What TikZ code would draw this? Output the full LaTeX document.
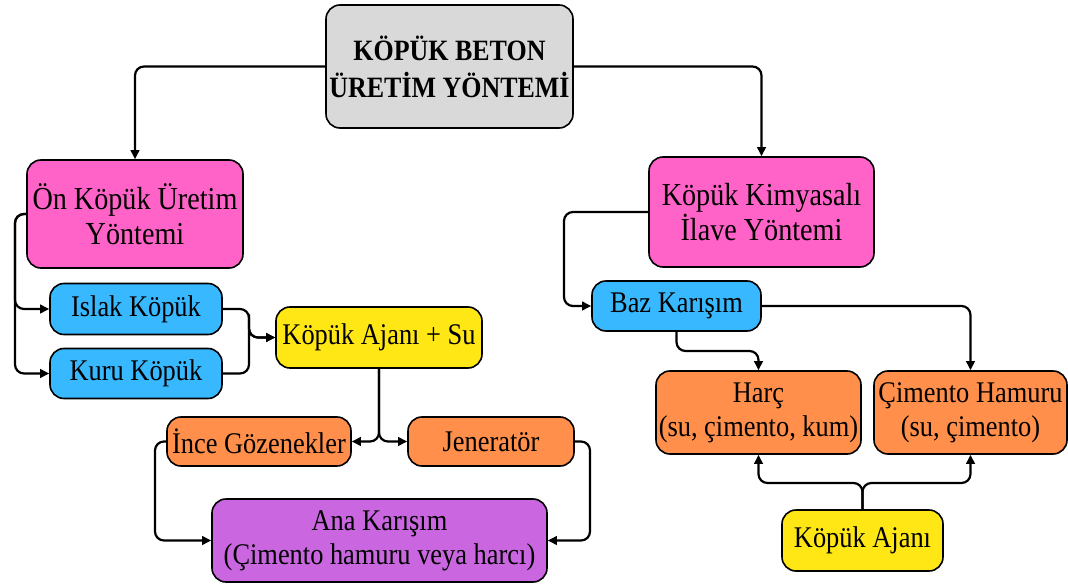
\documentclass[tikz,border=0pt]{standalone}
\usepackage{fontspec}
\setmainfont{Liberation Serif}[FakeStretch=0.88]
\usetikzlibrary{arrows.meta}
\definecolor{cgray}{HTML}{D9D9D9}
\definecolor{cpink}{HTML}{FF63C8}
\definecolor{cblue}{HTML}{38B8FF}
\definecolor{cyellow}{HTML}{FFE715}
\definecolor{corange}{HTML}{FF8F4A}
\definecolor{cpurple}{HTML}{C966E0}
\begin{document}
\begin{tikzpicture}[x=1pt,y=-1pt,
  box/.style={draw=black, line width=1.6pt, rounded corners=14pt, align=center,
    inner sep=0pt, font=\fontsize{30}{34}\selectfont},
  bigbox/.style={box, font=\fontsize{32}{35}\selectfont},
  conn/.style={draw=black, line width=2.2pt, rounded corners=9pt},
  arr/.style={conn, -{Triangle[length=9pt,width=8.5pt]}}]
\useasboundingbox (0,0) rectangle (1068,588);

\node[box, fill=cgray, minimum width=247pt, minimum height=123pt,
  font=\fontsize{29.5}{37}\selectfont\bfseries] (top) at (449.5,66.5) {KÖPÜK BETON\\ÜRETİM YÖNTEMİ};
\node[bigbox, fill=cpink, minimum width=216pt, minimum height=108pt] (on) at (135,214) {Ön Köpük Üretim\\Yöntemi};
\node[box, fill=cblue, minimum width=172pt, minimum height=51pt] (islak) at (136,309) {Islak Köpük};
\node[box, fill=cblue, minimum width=172pt, minimum height=50pt] (kuru) at (136,373.5) {Kuru Köpük};
\node[box, fill=cyellow, minimum width=206pt, minimum height=61pt] (ajan) at (379,337.5) {Köpük Ajanı + Su};
\node[box, fill=corange, minimum width=184pt, minimum height=49pt] (ince) at (259,441.5) {İnce Gözenekler};
\node[box, fill=corange, minimum width=166pt, minimum height=49pt] (jen) at (491,441.5) {Jeneratör};
\node[box, fill=cpurple, minimum width=335pt, minimum height=83pt] (ana) at (379.5,540.5) {Ana Karışım\\(Çimento hamuru veya harcı)};
\node[bigbox, fill=cpink, minimum width=225pt, minimum height=110pt] (kim) at (761.5,212) {Köpük Kimyasalı\\İlave Yöntemi};
\node[box, fill=cblue, minimum width=169pt, minimum height=50pt] (baz) at (676.5,306) {Baz Karışım};
\node[box, fill=corange, minimum width=205pt, minimum height=83pt] (harc) at (758.5,412.5) {Harç\\(su, çimento, kum)};
\node[box, fill=corange, minimum width=193pt, minimum height=83pt] (cim) at (970.5,412.5) {Çimento Hamuru\\(su, çimento)};
\node[box, fill=cyellow, minimum width=161pt, minimum height=61pt] (ajan2) at (862.5,540.5) {Köpük Ajanı};

\coordinate (j1) at (15,214);
\coordinate (j2) at (249,309);
\coordinate (j3) at (155,441.5);
\coordinate (j4) at (590,441.5);
\coordinate (j5) at (564,212);
\coordinate (j6) at (717,351);
\coordinate (j7) at (862.5,483);

\draw[arr] (top.west) -| (on.north);
\draw[arr] (top.east) -| (kim.north);
\draw[arr] (on.west) -- (j1) |- (islak.west);
\draw[arr] (on.west) -- (j1) |- (kuru.west);
\draw[arr] (islak.east) -- (j2) |- (ajan.west);
\draw[arr] (kuru.east) -| (j2) |- (ajan.west);
\draw[arr] (ajan.south) |- (ince.east);
\draw[arr] (ajan.south) |- (jen.west);
\draw[arr] (ince.west) -- (j3) |- (ana.west);
\draw[arr] (jen.east) -- (j4) |- (ana.east);
\draw[arr] (kim.west) -- (j5) |- (baz.west);
\draw[arr] (baz.south) |- (j6) -| (harc.north);
\draw[arr] (baz.east) -| (cim.north);
\draw[arr] (ajan2.north) -- (j7) -| (harc.south);
\draw[arr] (ajan2.north) -- (j7) -| (cim.south);
\end{tikzpicture}
\end{document}
